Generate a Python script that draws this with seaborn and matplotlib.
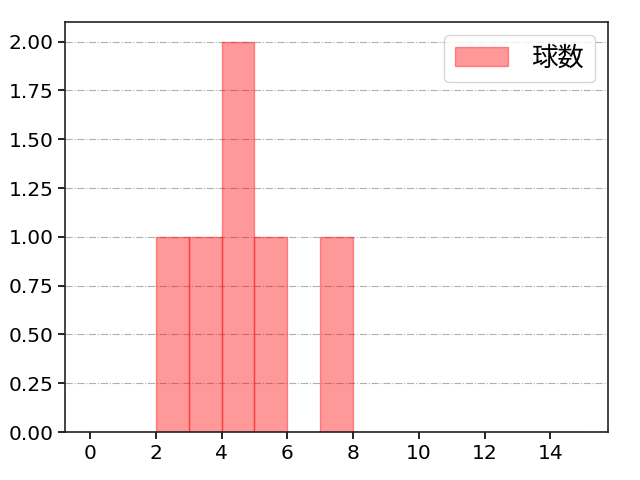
import matplotlib
matplotlib.use("Agg")
import matplotlib.pyplot as plt
import seaborn as sns
import numpy as np
import pandas as pd

# data: observed values (pitch counts)
values = [2, 3, 4, 4, 5, 7]
bin_edges = list(range(0, 16))
label = "球数"

sns.set_style("white")
plt.rcParams['font.family'] = ['DejaVu Sans', 'Noto Sans CJK JP']
plt.rcParams['text.color'] = 'black'
plt.rcParams['xtick.color'] = 'black'
plt.rcParams['ytick.color'] = 'black'

fig, ax = plt.subplots(figsize=(6.4, 4.8), dpi=100)
df = pd.DataFrame({label: values})
sns.histplot(data=df, x=label, bins=bin_edges, color="red", alpha=0.4,
             edgecolor=(1, 0, 0, 0.4), linewidth=1, ax=ax, label=label)
ax.set_axisbelow(True)
ax.grid(axis='y', linestyle='-.', color='#b0b0b0', linewidth=0.8)
ax.set_xlim(-0.75, 15.75)
ax.set_ylim(0, 2.1)
ax.set_xticks(range(0, 16, 2))
ax.set_yticks(np.arange(0, 2.01, 0.25))
ax.yaxis.set_major_formatter(matplotlib.ticker.FormatStrFormatter('%.2f'))
ax.set_xlabel("")
ax.set_ylabel("")
for s in ax.spines.values():
    s.set_color('#222222')
    s.set_linewidth(1.2)
ax.tick_params(axis='both', which='both', length=5, width=1.2, labelsize=14.5,
               left=True, bottom=True)
ax.legend(loc='upper right', fontsize=19, handlelength=2.0, handletextpad=0.9,
          edgecolor='#cccccc')
fig.subplots_adjust(left=0.102, right=0.95, bottom=0.1, top=0.954)
fig.savefig("out.png", dpi=100)
